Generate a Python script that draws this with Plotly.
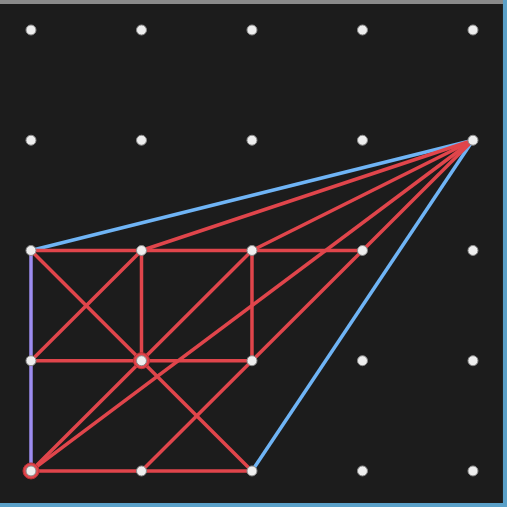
import plotly.graph_objects as go

cols = [0, 1, 2, 3, 4]
rows = [0, 1, 2, 3, 4]
# segments: (c1, r1, c2, r2)
red_segments = [
    (0, 2, 3, 2), (0, 3, 2, 3), (0, 4, 2, 4),
    (1, 2, 1, 3), (2, 2, 2, 3),
    (0, 2, 2, 4), (0, 3, 1, 2), (0, 4, 2, 2),
    (4, 1, 1, 2), (4, 1, 2, 2), (4, 1, 0, 4), (4, 1, 1, 4),
]
blue_segments = [(0, 2, 4, 1), (2, 4, 4, 1)]
purple_segments = [(0, 2, 0, 4)]
highlight_pegs = [(1, 3), (0, 4)]

fig = go.Figure()

def add_segs(segs, color):
    xs, ys = [], []
    for c1, r1, c2, r2 in segs:
        xs += [c1, c2, None]
        ys += [-r1, -r2, None]
    fig.add_trace(go.Scatter(x=xs, y=ys, mode="lines",
                             line=dict(color=color, width=3.5), hoverinfo="skip"))

add_segs(purple_segments, "#9d8cf0")
add_segs(blue_segments, "#6fb4f5")
add_segs(red_segments, "#e0454b")

fig.add_trace(go.Scatter(x=[p[0] for p in highlight_pegs], y=[-p[1] for p in highlight_pegs],
                         mode="markers", marker=dict(size=16, color="#e0454b",
                         line=dict(color="#b83035", width=1)), hoverinfo="skip"))
px_, py_ = [], []
for r in rows:
    for c in cols:
        px_.append(c); py_.append(-r)
fig.add_trace(go.Scatter(x=px_, y=py_, mode="markers",
                         marker=dict(size=10, color="#eeeeee", line=dict(color="#8a8a8a", width=1)),
                         hoverinfo="skip"))

fig.update_layout(
    width=507, height=507, margin=dict(l=0, r=0, t=0, b=0),
    showlegend=False, paper_bgcolor="#1c1c1c", plot_bgcolor="#1c1c1c",
    xaxis=dict(range=[-0.2805, 4.308], visible=False, fixedrange=True),
    yaxis=dict(range=[-4.327, 0.272], visible=False, fixedrange=True),
    shapes=[
        dict(type="rect", xref="paper", yref="paper", x0=0, x1=1, y0=0.992, y1=1,
             fillcolor="#8a8a8a", line=dict(width=0), layer="below"),
        dict(type="rect", xref="paper", yref="paper", x0=0.992, x1=1, y0=0, y1=1,
             fillcolor="#5aa0c8", line=dict(width=0), layer="below"),
        dict(type="rect", xref="paper", yref="paper", x0=0, x1=1, y0=0, y1=0.008,
             fillcolor="#5aa0c8", line=dict(width=0), layer="below"),
    ],
)
fig.write_html("out.html", config={"displayModeBar": False},
               post_script="document.body.style.margin='0';document.body.style.overflow='hidden';")
